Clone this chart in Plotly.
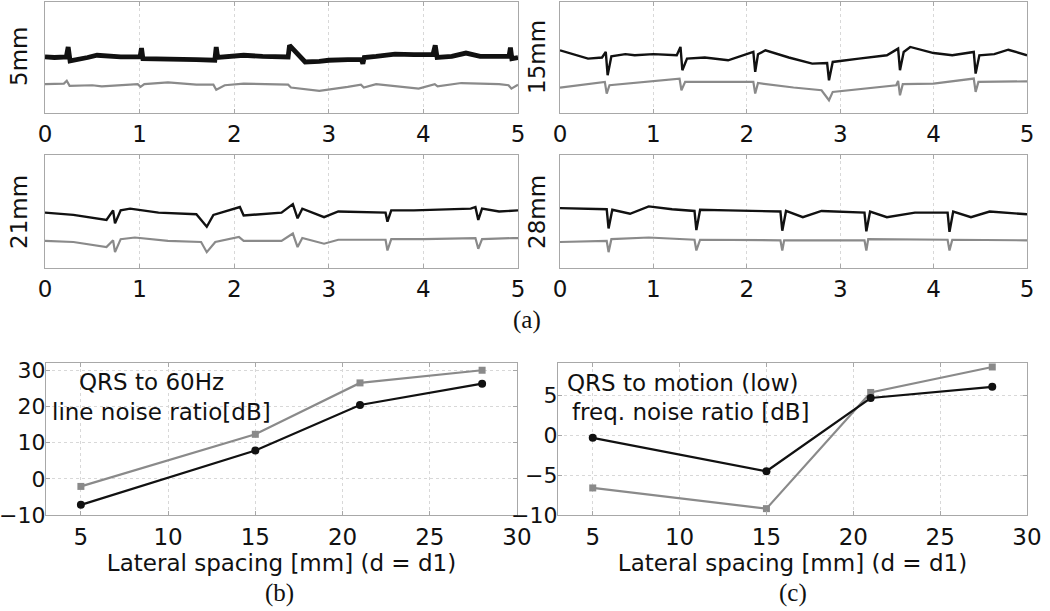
import plotly.graph_objects as go

# ---------------- Data ----------------
# (a) ECG traces, time in seconds, amplitude in arbitrary normalized units (0..1)
t5_black = [0, 0.1, 0.225, 0.245, 0.265, 0.35, 0.45, 0.55, 0.65, 0.8, 1.005, 1.02, 1.035, 1.2, 1.4, 1.6, 1.795,
            1.81, 1.825, 1.95, 2.1, 2.3, 2.5, 2.57, 2.585, 2.75, 2.9, 3.0, 3.2, 3.345, 3.36, 3.375, 3.5, 3.7,
            3.9, 4.1, 4.125, 4.145, 4.3, 4.45, 4.6, 4.75, 4.905, 4.92, 4.935, 5.0]
v5_black = [0.505, 0.50, 0.505, 0.595, 0.47, 0.48, 0.50, 0.52, 0.51, 0.505, 0.505, 0.585, 0.49, 0.49, 0.485,
            0.48, 0.475, 0.595, 0.50, 0.505, 0.52, 0.51, 0.505, 0.505, 0.61, 0.46, 0.465, 0.475, 0.48, 0.48,
            0.445, 0.50, 0.51, 0.53, 0.525, 0.525, 0.61, 0.50, 0.51, 0.54, 0.51, 0.515, 0.51, 0.59, 0.49, 0.50]
t5_gray = [0, 0.2, 0.23, 0.26, 0.5, 0.6, 0.98, 1.01, 1.05, 1.3, 1.6, 1.78, 1.81, 1.9, 2.1, 2.5, 2.57, 2.6, 2.9,
           3.2, 3.34, 3.37, 3.5, 3.95, 4.12, 4.15, 4.4, 4.8, 4.9, 4.93, 5.0]
v5_gray = [0.26, 0.265, 0.29, 0.245, 0.25, 0.24, 0.26, 0.235, 0.26, 0.275, 0.255, 0.255, 0.21, 0.25, 0.265, 0.26,
           0.255, 0.23, 0.20, 0.235, 0.255, 0.23, 0.26, 0.22, 0.26, 0.24, 0.27, 0.26, 0.25, 0.22, 0.255]

t15_black = [0, 0.15, 0.3, 0.45, 0.49, 0.51, 0.55, 0.7, 0.8, 1.0, 1.25, 1.29, 1.31, 1.36, 1.55, 1.8, 2.07, 2.09,
             2.12, 2.2, 2.45, 2.7, 2.86, 2.88, 2.92, 3.2, 3.5, 3.62, 3.64, 3.68, 3.75, 4.0, 4.2, 4.43, 4.45,
             4.49, 4.65, 4.8, 5.0]
v15_black = [0.565, 0.53, 0.49, 0.50, 0.55, 0.34, 0.51, 0.53, 0.52, 0.53, 0.52, 0.595, 0.385, 0.49, 0.50, 0.475,
             0.55, 0.37, 0.53, 0.565, 0.50, 0.445, 0.45, 0.295, 0.46, 0.49, 0.52, 0.58, 0.385, 0.55, 0.595, 0.54,
             0.52, 0.55, 0.355, 0.52, 0.53, 0.57, 0.52]
t15_gray = [0, 0.48, 0.5, 0.53, 1.28, 1.3, 1.34, 2.07, 2.09, 2.12, 2.5, 2.8, 2.88, 2.92, 3.6, 3.62, 3.64, 3.67,
            4.0, 4.43, 4.45, 4.48, 5.0]
v15_gray = [0.228, 0.28, 0.175, 0.25, 0.31, 0.205, 0.28, 0.28, 0.175, 0.27, 0.23, 0.205, 0.115, 0.19, 0.25, 0.29,
            0.16, 0.26, 0.265, 0.31, 0.19, 0.28, 0.285]

t21_black = [0, 0.3, 0.65, 0.72, 0.74, 0.8, 0.9, 1.2, 1.6, 1.71, 1.78, 2.0, 2.06, 2.1, 2.5, 2.62, 2.67, 2.72, 2.95,
             3.1, 3.6, 3.62, 3.66, 3.9, 4.5, 4.55, 4.58, 4.62, 4.8, 5.0]
v21_black = [0.49, 0.47, 0.425, 0.51, 0.395, 0.51, 0.525, 0.49, 0.476, 0.365, 0.47, 0.525, 0.54, 0.465, 0.49,
             0.565, 0.44, 0.525, 0.45, 0.50, 0.49, 0.41, 0.51, 0.51, 0.525, 0.54, 0.425, 0.525, 0.50, 0.51]
t21_gray = [0, 0.3, 0.65, 0.72, 0.74, 0.8, 0.95, 1.3, 1.65, 1.71, 1.8, 2.05, 2.1, 2.5, 2.62, 2.67, 2.72, 2.95, 3.1,
            3.6, 3.62, 3.66, 4.0, 4.55, 4.58, 4.62, 4.95, 5.0]
v21_gray = [0.24, 0.23, 0.185, 0.245, 0.14, 0.255, 0.27, 0.24, 0.23, 0.14, 0.23, 0.275, 0.24, 0.24, 0.305, 0.185,
            0.265, 0.215, 0.25, 0.25, 0.155, 0.255, 0.255, 0.265, 0.17, 0.255, 0.265, 0.265]

t28_black = [0, 0.5, 0.52, 0.56, 0.75, 0.95, 1.2, 1.44, 1.46, 1.5, 1.8, 2.36, 2.38, 2.42, 2.6, 2.8, 3.26, 3.28,
             3.32, 3.5, 3.8, 4.15, 4.17, 4.21, 4.4, 4.6, 5.0]
v28_black = [0.53, 0.52, 0.35, 0.515, 0.48, 0.545, 0.52, 0.505, 0.335, 0.515, 0.51, 0.50, 0.33, 0.505, 0.45, 0.505,
             0.49, 0.325, 0.50, 0.45, 0.49, 0.49, 0.32, 0.50, 0.45, 0.50, 0.475]
t28_gray = [0, 0.5, 0.52, 0.55, 0.95, 1.44, 1.46, 1.5, 2.36, 2.38, 2.4, 3.26, 3.28, 3.3, 4.15, 4.17, 4.2, 5.0]
v28_gray = [0.23, 0.24, 0.14, 0.255, 0.27, 0.25, 0.155, 0.25, 0.245, 0.155, 0.245, 0.245, 0.155, 0.255, 0.25,
            0.155, 0.25, 0.245]

panel_labels = ["5mm", "15mm", "21mm", "28mm"]

# (b), (c) ratio plots
spacing = [5, 15, 21, 28]
b_black = [-7.2, 7.8, 20.4, 26.3]
b_gray = [-2.1, 12.3, 26.5, 30.0]
c_black = [-0.3, -4.5, 4.7, 6.1]
c_gray = [-6.6, -9.2, 5.4, 8.6]

# ---------------- Figure ----------------
W, H = 1050, 611
BLACK = "#111111"
GRAY = "#8a8a8a"
SANS = "DejaVu Sans, Liberation Sans, Arial, sans-serif"
SERIF = "Liberation Serif, Times New Roman, serif"


def px_x(p):
    return p / W


def px_y(p):
    return 1 - p / H


top_domains = [
    ([45, 518], [2, 113]),
    ([560, 1027], [2, 113]),
    ([45, 518], [155, 268]),
    ([560, 1027], [155, 268]),
]
bottom_domains = [
    ([46, 517], [363, 515]),
    ([558, 1027], [363, 515]),
]

fig = go.Figure()

top_series = [
    (t5_black, v5_black, t5_gray, v5_gray, 4.8),
    (t15_black, v15_black, t15_gray, v15_gray, 2.4),
    (t21_black, v21_black, t21_gray, v21_gray, 2.4),
    (t28_black, v28_black, t28_gray, v28_gray, 2.4),
]

axis_common = dict(
    showline=True, linecolor="#a8a8a8", linewidth=1.3, mirror="ticks",
    showgrid=True, gridcolor="#d8d8d8", griddash="dot", gridwidth=1,
    zeroline=False, ticks="inside", ticklen=4, tickcolor="#a8a8a8", automargin=False,
)

layout = {}
for i, (tb, vb, tg, vg, lw) in enumerate(top_series):
    n = i + 1
    xa = "x" if n == 1 else f"x{n}"
    ya = "y" if n == 1 else f"y{n}"
    fig.add_trace(go.Scatter(x=tg, y=vg, mode="lines", line=dict(color=GRAY, width=2.2),
                             xaxis=xa, yaxis=ya, showlegend=False, hoverinfo="skip"))
    fig.add_trace(go.Scatter(x=tb, y=vb, mode="lines", line=dict(color=BLACK, width=lw),
                             xaxis=xa, yaxis=ya, showlegend=False, hoverinfo="skip"))
    (x0, x1), (y0, y1) = top_domains[i]
    layout[f"xaxis{n if n > 1 else ''}"] = dict(
        axis_common, domain=[px_x(x0), px_x(x1)], range=[0, 5], tickvals=[0, 1, 2, 3, 4, 5],
        anchor=ya, tickfont=dict(family=SANS, size=23, color="#111"), ticklabelstandoff=0,
    )
    layout[f"yaxis{n if n > 1 else ''}"] = dict(
        axis_common, domain=[px_y(y1), px_y(y0)], range=[0, 1], showticklabels=False, tickvals=[],
        showgrid=False, anchor=xa,
    )

# bottom panels
for j, (blk, gry) in enumerate([(b_black, b_gray), (c_black, c_gray)]):
    n = 5 + j
    xa, ya = f"x{n}", f"y{n}"
    fig.add_trace(go.Scatter(x=spacing, y=gry, mode="lines+markers",
                             line=dict(color=GRAY, width=2.2),
                             marker=dict(symbol="square", size=7, color=GRAY),
                             xaxis=xa, yaxis=ya, showlegend=False))
    fig.add_trace(go.Scatter(x=spacing, y=blk, mode="lines+markers",
                             line=dict(color=BLACK, width=2.2),
                             marker=dict(symbol="circle", size=8, color=BLACK),
                             xaxis=xa, yaxis=ya, showlegend=False))
    (x0, x1), (y0, y1) = bottom_domains[j]
    layout[f"xaxis{n}"] = dict(
        axis_common, domain=[px_x(x0), px_x(x1)], range=[3, 30], tickvals=[5, 10, 15, 20, 25, 30],
        anchor=ya, tickfont=dict(family=SANS, size=23, color="#111"), ticklabelstandoff=1,
        title=dict(text="Lateral spacing [mm] (d = d1)", font=dict(family=SANS, size=23, color="#111"),
                   standoff=0),
    )
    yr = [-10, 32] if j == 0 else [-10, 9.1]
    yt = [-10, 0, 10, 20, 30] if j == 0 else [-10, -5, 0, 5]
    layout[f"yaxis{n}"] = dict(
        axis_common, domain=[px_y(y1), px_y(y0)], range=yr, tickvals=yt, anchor=xa,
        tickfont=dict(family=SANS, size=22, color="#111"), ticklabelstandoff=-5,
    )

annotations = []
label_pos = [(19, 57), (537, 57), (19, 212), (537, 212)]
for lab, (lx, ly) in zip(panel_labels, label_pos):
    annotations.append(dict(text=lab, x=px_x(lx), y=px_y(ly), xref="paper", yref="paper",
                            textangle=-90, showarrow=False, xanchor="center", yanchor="middle",
                            font=dict(family=SANS, size=23, color="#111")))

for txt, lx, ly in [("QRS to 60Hz", 77, 382), ("line noise ratio[dB]", 50, 412),
                    ("QRS to motion (low)", 565, 383), ("freq. noise ratio [dB]", 570, 412)]:
    annotations.append(dict(text=txt, x=px_x(lx), y=px_y(ly), xref="paper", yref="paper",
                            showarrow=False, xanchor="left", yanchor="middle",
                            font=dict(family=SANS, size=23, color="#111")))

for txt, lx, ly in [("(a)", 527, 320), ("(b)", 279, 593), ("(c)", 793, 593)]:
    annotations.append(dict(text=txt, x=px_x(lx), y=px_y(ly), xref="paper", yref="paper",
                            showarrow=False, xanchor="center", yanchor="middle",
                            font=dict(family=SERIF, size=25, color="#111")))

fig.update_layout(
    width=W, height=H,
    margin=dict(l=0, r=0, t=0, b=0),
    paper_bgcolor="white", plot_bgcolor="white",
    annotations=annotations,
    **layout,
)

fig.write_html("out.html", config={"displayModeBar": False},
               post_script="document.body.style.margin='0px';document.body.style.overflow='hidden';")
